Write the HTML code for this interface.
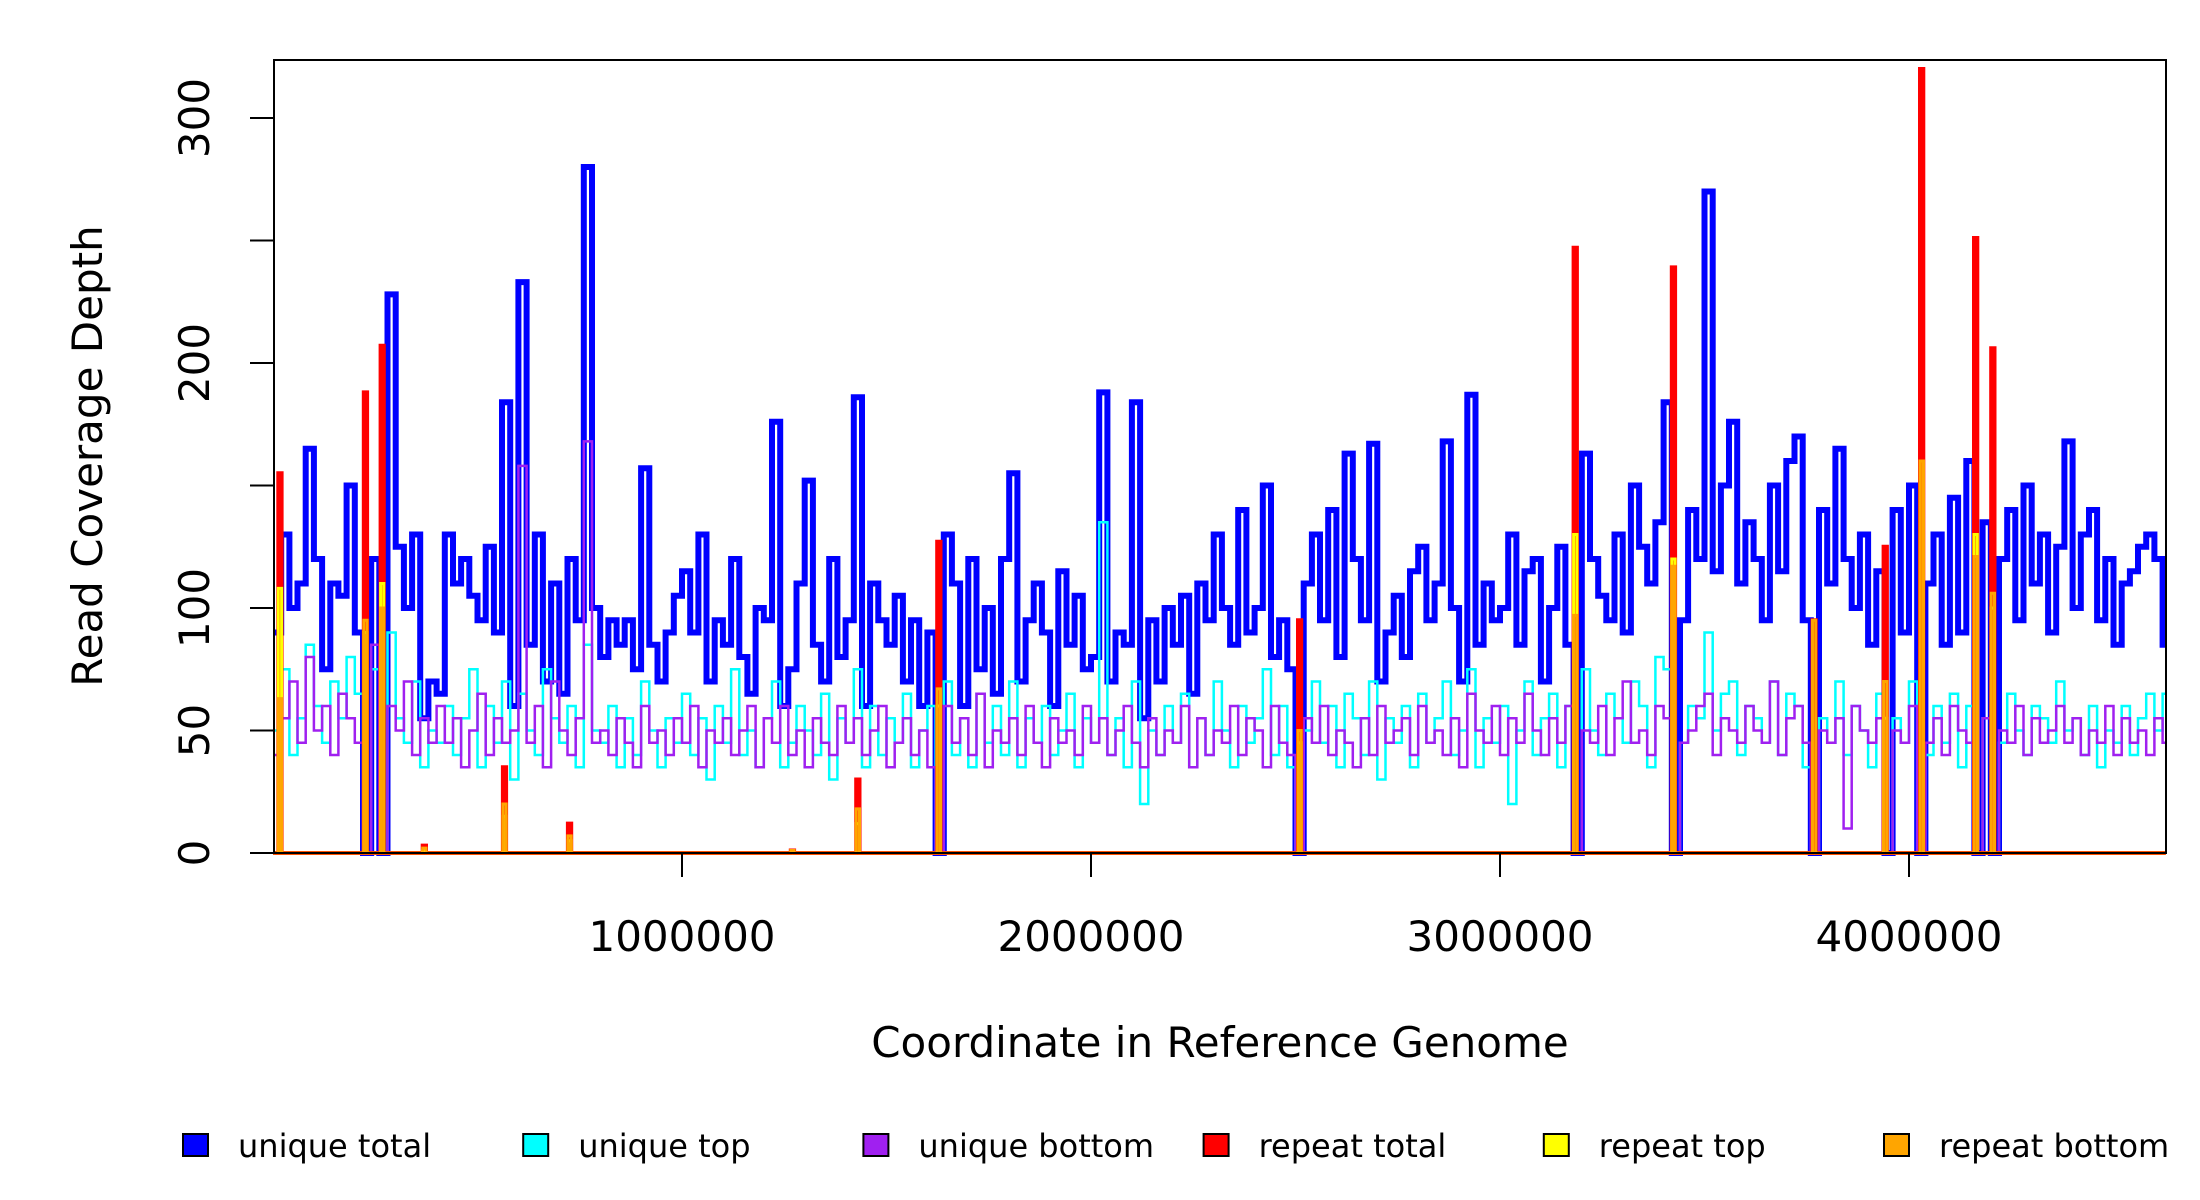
<!DOCTYPE html>
<html><head><meta charset="utf-8">
<style>
html,body{margin:0;padding:0;background:#fff;}
svg{display:block;}
text{font-family:"DejaVu Sans","Liberation Sans",sans-serif;fill:#000;}
</style></head>
<body>
<svg id="chart" width="2200" height="1200" viewBox="0 0 2200 1200" xmlns="http://www.w3.org/2000/svg">
<rect x="0" y="0" width="2200" height="1200" fill="#fff"/>
<g id="series"></g>
<rect x="274" y="60" width="1892" height="793" fill="none" stroke="#000" stroke-width="2"/>
<g id="axes"></g>
<text x="1220" y="1057" font-size="42" text-anchor="middle">Coordinate in Reference Genome</text>
<text transform="translate(102,456) rotate(-90)" font-size="42" text-anchor="middle">Read Coverage Depth</text>
<g id="legend"></g>
</svg>
<script>
const binSize = 20000;
const uniqueTotal = [
90,130,100,110,165,120,75,110,105,150,
90,0,120,0,228,125,100,130,55,70,
65,130,110,120,105,95,125,90,184,60,
233,85,130,70,110,65,120,95,280,100,
80,95,85,95,75,157,85,70,90,105,
115,90,130,70,95,85,120,80,65,100,
95,176,60,75,110,152,85,70,120,80,
95,186,60,110,95,85,105,70,95,60,
90,0,130,110,60,120,75,100,65,120,
155,70,95,110,90,60,115,85,105,75,
80,188,70,90,85,184,55,95,70,100,
85,105,65,110,95,130,100,85,140,90,
100,150,80,95,75,0,110,130,95,140,
80,163,120,95,167,70,90,105,80,115,
125,95,110,168,100,70,187,85,110,95,
100,130,85,115,120,70,100,125,85,0,
163,120,105,95,130,90,150,125,110,135,
184,0,95,140,120,270,115,150,176,110,
135,120,95,150,115,160,170,95,0,140,
110,165,120,100,130,85,115,0,140,90,
150,0,110,130,85,145,90,160,0,135,
0,120,140,95,150,110,130,90,125,168,
100,130,140,95,120,85,110,115,125,130,
120,85];
const uniqueTop = [
50,75,40,55,85,60,45,70,55,80,
65,0,75,0,90,55,45,70,35,50,
45,60,40,55,75,35,60,45,70,30,
65,50,40,75,55,45,60,35,85,50,
45,60,35,55,40,70,50,35,55,45,
65,40,55,30,60,45,75,40,50,35,
55,70,35,45,60,50,40,65,30,55,
45,75,35,60,40,55,45,65,35,50,
60,0,70,40,55,35,65,45,60,40,
70,35,55,45,60,40,50,65,35,55,
45,135,40,55,35,70,20,50,40,60,
45,65,35,55,40,70,50,35,60,45,
55,75,40,60,35,0,50,70,45,60,
35,65,55,40,70,30,55,45,60,35,
65,45,55,70,40,50,75,35,55,45,
60,20,50,70,40,55,65,35,60,0,
75,50,40,65,55,45,70,60,35,80,
75,0,45,60,55,90,50,65,70,40,
60,55,45,70,40,65,60,35,0,55,
45,70,40,60,50,35,65,0,55,45,
70,0,40,60,45,65,35,60,0,55,
0,45,65,50,40,60,55,45,70,50,
55,40,60,35,50,45,60,40,55,65,
50,65];
const uniqueBottom = [
40,55,70,45,80,50,60,40,65,55,
45,0,85,0,60,50,70,40,55,45,
60,45,55,35,50,65,40,55,45,50,
158,45,60,35,70,50,40,55,168,45,
50,40,55,45,35,60,45,50,40,55,
45,60,35,50,45,55,40,50,60,35,
55,45,60,40,50,35,55,45,40,60,
45,55,40,50,60,35,45,55,40,50,
35,0,60,45,55,40,65,35,50,45,
55,40,60,45,35,55,45,50,40,60,
45,55,40,50,60,45,35,55,40,50,
45,60,35,55,40,50,45,60,40,55,
50,35,60,45,40,0,55,45,60,40,
50,45,35,55,40,60,45,50,55,40,
60,45,50,40,55,35,65,50,45,60,
40,55,45,65,50,40,55,45,60,0,
50,45,60,40,55,70,45,50,40,60,
55,0,45,50,60,65,40,55,50,45,
60,50,45,70,40,55,60,45,0,50,
45,55,10,60,50,45,55,0,50,45,
60,0,45,55,40,60,50,45,0,55,
0,50,45,60,40,55,45,50,60,45,
55,40,50,45,60,40,55,45,50,40,
55,45];
const repeatPos    = [17000,226000,267000,370000,566000,725000,1270000,1430000,1628000,2510000,3184000,3424000,3768000,3942000,4031000,4163000,4205000];
const repeatTotal  = [155,188,207,3,35,12,1,30,127,95,247,239,95,125,320,251,206];
const repeatTop    = [108,90,110,1,15,5,0,12,60,45,130,120,0,55,160,130,100];
const repeatBottom = [63,95,100,2,20,7,1,18,67,50,97,117,95,70,160,121,106];
const xTicks = [1000000,2000000,3000000,4000000];
const yTicks = [0,50,100,150,200,250,300];
const yLabels = ["0","50","100","","200","","300"];
const legendNames = ["unique total","unique top","unique bottom","repeat total","repeat top","repeat bottom"];
const legendColors = ["#0000ff","#00ffff","#a020f0","#ff0000","#ffff00","#ffa500"];

const NS = "http://www.w3.org/2000/svg";
const X0 = 273, PXM = 409, Y0 = 853, PYU = 2.45;
const xMax = 4628000;
function sx(v){ return X0 + v / 1e6 * PXM; }
function sy(v){ return Y0 - v * PYU; }

const layer = document.getElementById('series');
function stepPath(values, color, w, name){
  let d = "";
  for (let i = 0; i < values.length; i++){
    const a = Math.min(i*binSize, xMax), b = Math.min((i+1)*binSize, xMax);
    const y = sy(values[i]);
    d += (i===0 ? "M" : "L") + sx(a).toFixed(1) + "," + y.toFixed(1) + "L" + sx(b).toFixed(1) + "," + y.toFixed(1);
  }
  const p = document.createElementNS(NS, 'path');
  p.setAttribute('d', d);
  p.setAttribute('fill', 'none');
  p.setAttribute('stroke', color);
  p.setAttribute('stroke-width', w);
  p.setAttribute('stroke-linejoin', 'miter');
  
  
  layer.appendChild(p);
}
function spikePath(vals, color, w, name){
  const half = 4000;
  let d = "M" + sx(0) + "," + sy(0);
  for (let i = 0; i < repeatPos.length; i++){
    const a = sx(repeatPos[i]-half), b = sx(repeatPos[i]+half), y = sy(vals[i]);
    d += "L" + a.toFixed(1) + "," + sy(0) + "L" + a.toFixed(1) + "," + y.toFixed(1) + "L" + b.toFixed(1) + "," + y.toFixed(1) + "L" + b.toFixed(1) + "," + sy(0);
  }
  d += "L" + sx(xMax) + "," + sy(0);
  const p = document.createElementNS(NS, 'path');
  p.setAttribute('d', d);
  p.setAttribute('fill', 'none');
  p.setAttribute('stroke', color);
  p.setAttribute('stroke-width', w);
  
  
  layer.appendChild(p);
}
stepPath(uniqueTotal, "#0000ff", 6, "unique-total-line");
stepPath(uniqueTop, "#00ffff", 2.5, "unique-top-line");
stepPath(uniqueBottom, "#a020f0", 2.5, "unique-bottom-line");
spikePath(repeatTotal, "#ff0000", 4, "repeat-total-line");
spikePath(repeatTop, "#ffff00", 3, "repeat-top-line");
spikePath(repeatBottom, "#ffa500", 3, "repeat-bottom-line");

const axes = document.getElementById('axes');
xTicks.forEach(function(t){
  const l = document.createElementNS(NS, 'line');
  l.setAttribute('x1', sx(t)); l.setAttribute('x2', sx(t));
  l.setAttribute('y1', 853); l.setAttribute('y2', 877);
  l.setAttribute('stroke', '#000'); l.setAttribute('stroke-width', 2);
  
  
  axes.appendChild(l);
  const tx = document.createElementNS(NS, 'text');
  tx.setAttribute('x', sx(t)); tx.setAttribute('y', 951);
  tx.setAttribute('font-size', 42); tx.setAttribute('text-anchor', 'middle');
  tx.textContent = String(t);
  
  
  axes.appendChild(tx);
});
yTicks.forEach(function(t, i){
  const l = document.createElementNS(NS, 'line');
  l.setAttribute('x1', 250); l.setAttribute('x2', 274);
  l.setAttribute('y1', sy(t)); l.setAttribute('y2', sy(t));
  l.setAttribute('stroke', '#000'); l.setAttribute('stroke-width', 2);
  
  
  axes.appendChild(l);
  if (yLabels[i]){
    const tx = document.createElementNS(NS, 'text');
    tx.setAttribute('transform', 'translate(209,' + sy(t) + ') rotate(-90)');
    tx.setAttribute('font-size', 42); tx.setAttribute('text-anchor', 'middle');
    tx.textContent = yLabels[i];
    
    
    axes.appendChild(tx);
  }
});

const legend = document.getElementById('legend');
legendNames.forEach(function(n, i){
  const x = 183 + i * 340.2;
  const r = document.createElementNS(NS, 'rect');
  r.setAttribute('x', x); r.setAttribute('y', 1134);
  r.setAttribute('width', 25); r.setAttribute('height', 22);
  r.setAttribute('fill', legendColors[i]); r.setAttribute('stroke', '#000'); r.setAttribute('stroke-width', 2);
  
  
  legend.appendChild(r);
  const tx = document.createElementNS(NS, 'text');
  tx.setAttribute('x', x + 55); tx.setAttribute('y', 1157);
  tx.setAttribute('font-size', 32);
  tx.textContent = n;
  
  
  legend.appendChild(tx);
});
</script>
</body></html>
